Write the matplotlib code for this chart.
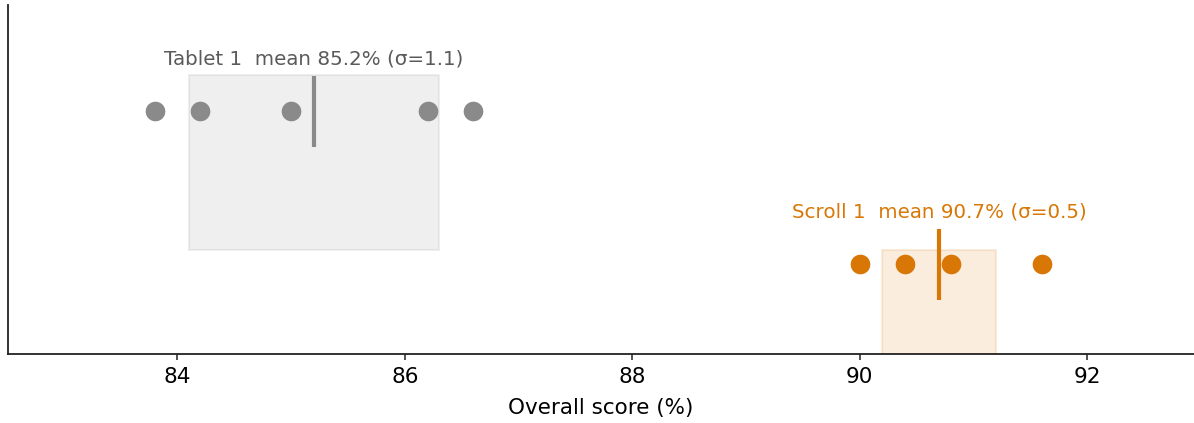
import matplotlib
matplotlib.use("Agg")
import matplotlib.pyplot as plt
from matplotlib.patches import Rectangle

# ---- data ----
group_names = ["Tablet 1", "Scroll 1"]
group_scores = [
    [83.8, 84.2, 85.0, 86.2, 86.6],
    [90.0, 90.4, 90.8, 91.6],
]
group_means = [85.2, 90.7]
group_sigmas = [1.1, 0.5]
group_rows = [1.0, 0.0]
x_ticks = [84, 86, 88, 90, 92]

# ---- styling ----
point_colors = ["#8a8a8a", "#d97706"]
text_colors = ["#5a5a5a", "#d97706"]
box_height = 1.144
first_box_top = 1.235

fig = plt.figure(figsize=(11.94, 4.23), dpi=100)
ax = fig.add_axes([8 / 1194, 1 - 354 / 423, 1 - 8 / 1194, (354 - 5) / 423])

for i, (name, scores, mu, sd, row, pc, tc) in enumerate(zip(
        group_names, group_scores, group_means, group_sigmas, group_rows,
        point_colors, text_colors)):
    box_top = first_box_top - i * box_height
    rect = Rectangle((mu - sd, box_top - box_height), 2 * sd, box_height,
                     facecolor=pc, alpha=0.13, edgecolor=pc, linewidth=1.5, zorder=1)
    ax.add_patch(rect)
    ax.scatter(scores, [row] * len(scores), s=200, color=pc, zorder=3, linewidths=0)
    ax.plot([mu, mu], [row - 0.232, row + 0.232], color=pc, lw=3, zorder=4,
            solid_capstyle="butt")
    ax.text(mu, row + 0.34, f"{name}  mean {mu:.1f}% (σ={sd:.1f})", color=tc,
            fontsize=14.3, ha="center", va="center", zorder=5)

ax.set_xlim(82.51, 92.94)
ax.set_ylim(-0.588, 1.693)
ax.set_xticks(x_ticks)
ax.set_xticklabels([str(t) for t in x_ticks], fontsize=15.5)
ax.set_yticks([])
ax.set_xlabel("Overall score (%)", fontsize=15.5, labelpad=8)
for side in ["top", "right"]:
    ax.spines[side].set_visible(False)
for side in ["left", "bottom"]:
    ax.spines[side].set_linewidth(1.3)
    ax.spines[side].set_color("#222222")
ax.tick_params(axis="x", length=4.5, width=1.1, color="#222222", pad=5)

fig.savefig("out.png", dpi=100)
